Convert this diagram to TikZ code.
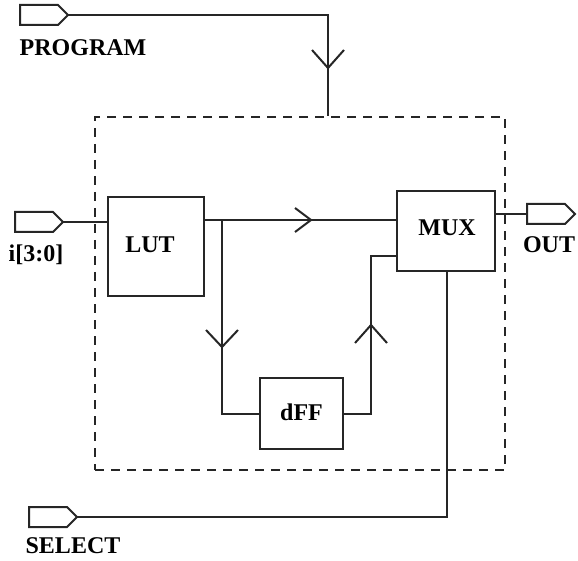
\documentclass[tikz,border=0pt]{standalone}
\usepackage{fontspec}
\setmainfont{Liberation Serif}
\begin{document}
\begin{tikzpicture}[x=1pt,y=-1pt,
  wire/.style={line width=2pt,draw=black!85},
  blk/.style={draw=black!85,line width=2pt,fill=white,inner sep=0pt,font=\fontsize{24}{26}\selectfont\bfseries},
  lbl/.style={inner sep=0pt,font=\fontsize{24}{26}\selectfont\bfseries},
  frame/.style={draw=black!85,line width=2pt,dash pattern=on 9pt off 7pt,inner sep=0pt},
  ioport/.pic={\draw[line width=2pt,draw=black!85,fill=white] (-48,-10) -- (-10,-10) -- (0,0) -- (-10,10) -- (-48,10) -- cycle;}
]
\useasboundingbox (0,0) rectangle (578,561);
% frame
\node[frame,minimum width=410pt,minimum height=353pt] (fr) at (300,293.5) {};
% blocks
\node[blk,minimum width=96pt,minimum height=99pt] (lut) at (156,246.5) {};
\node[lbl] (lutl) at (150,245) {LUT};
\node[blk,minimum width=98pt,minimum height=80pt] (mux) at (446,231) {};
\node[lbl] (muxl) at (447,228) {MUX};
\node[blk,minimum width=83pt,minimum height=71pt] (dff) at (301.5,413.5) {};
\node[lbl] (dffl) at (301.5,412) {dFF};
% ports
\pic at (68,15) {ioport};
\coordinate (prog) at (68,15);
\pic at (63,222) {ioport};
\coordinate (inp) at (63,222);
\pic at (575,214) {ioport};
\coordinate (outp) at (527,214);
\pic at (77,517) {ioport};
\coordinate (sel) at (77,517);
% labels
\node[lbl] (progl) at (83,48) {PROGRAM};
\node[lbl] (inl) at (36,255) {i[3:0]};
\node[lbl] (outl) at (549,245) {OUT};
\node[lbl] (sell) at (73,546) {SELECT};
% wires
\coordinate (pc) at (328,15);
\draw[wire] (prog) -- (pc) -- (pc |- fr.north);
\draw[wire] (312,50) -- (328,68) -- (344,50);
\draw[wire] (inp) -- (inp -| lut.west);
\coordinate (l1) at (204,220);
\draw[wire] (l1) -- (l1 -| mux.west);
\draw[wire] (295,208) -- (311,220) -- (295,232);
\coordinate (br) at (222,220);
\draw[wire] (br) -- (br |- dff.west) -- (dff.west);
\draw[wire] (206,330) -- (222,347) -- (238,330);
\coordinate (fb) at (371,256);
\draw[wire] (dff.east) -- (fb |- dff.east) -- (fb) -- (fb -| mux.west);
\draw[wire] (355,343) -- (371,325) -- (387,343);
\coordinate (mo) at (495,214);
\draw[wire] (mo) -- (outp);
\coordinate (mb) at (447,517);
\draw[wire] (mb |- mux.south) -- (mb) -- (sel);
\end{tikzpicture}
\end{document}
